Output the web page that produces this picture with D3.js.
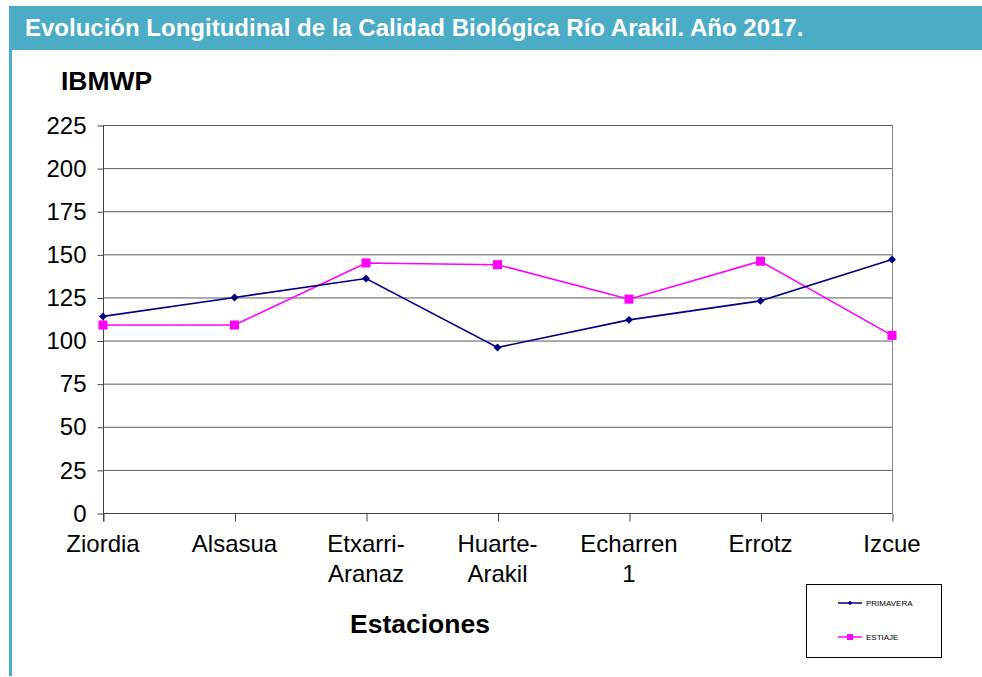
<!DOCTYPE html>
<html>
<head>
<meta charset="utf-8">
<script src="https://cdn.jsdelivr.net/npm/d3@7"></script>
<style>
  body { margin: 0; background: #fff; }
  svg { display: block; font-family: Arial, "Liberation Sans", sans-serif; }
</style>
</head>
<body>
<svg id="chart" width="982" height="677"></svg>
<script>
// data
var estaciones = [["Ziordia"], ["Alsasua"], ["Etxarri-", "Aranaz"], ["Huarte-", "Arakil"], ["Echarren", "1"], ["Errotz"], ["Izcue"]];
var primavera = [114, 125, 136, 96, 112, 123, 147];
var estiaje = [109, 109, 145, 144, 124, 146, 103];
var yTicks = [0, 25, 50, 75, 100, 125, 150, 175, 200, 225];

var svg = d3.select("#chart");

// header bar + left frame line
svg.append("rect").attr("x", 9).attr("y", 6).attr("width", 973).attr("height", 44).attr("fill", "#4BACC6");
svg.append("rect").attr("x", 9).attr("y", 50).attr("width", 3).attr("height", 626).attr("fill", "#4BACC6");
svg.append("text").attr("x", 25).attr("y", 36)
  .attr("fill", "#fff").attr("font-size", "24px").attr("font-weight", "bold")
  .text("Evolución Longitudinal de la Calidad Biológica Río Arakil. Año 2017.");

var x = d3.scalePoint()
  .domain(d3.range(estaciones.length))
  .range([103, 892]);
var y = d3.scaleLinear()
  .domain([0, 225])
  .range([513, 125]);

// gridlines
svg.append("g").selectAll("line")
  .data(yTicks.filter(function(d){ return d > 0; }))
  .enter().append("line")
  .attr("x1", 103).attr("x2", 892)
  .attr("y1", function(d){ return y(d) + 0.5; })
  .attr("y2", function(d){ return y(d) + 0.5; })
  .attr("stroke", "#5a5a5a").attr("stroke-width", 1);

// right border of plot area
svg.append("line").attr("x1", 892.5).attr("x2", 892.5).attr("y1", y(225)).attr("y2", y(0))
  .attr("stroke", "#8a8a8a");

// y axis
var yAxis = svg.append("g").attr("transform", "translate(103.5,0.5)")
  .call(d3.axisLeft(y).tickValues(yTicks).tickSize(6).tickPadding(11));
yAxis.select(".domain").attr("stroke", "#444").attr("d", "M0," + y(225) + "V" + (y(0) + 8));
yAxis.selectAll(".tick line").attr("stroke", "#444");
yAxis.selectAll("text").attr("font-size", "24px").attr("fill", "#000")
  .attr("font-family", "Arial, 'Liberation Sans', sans-serif");

// x axis
var xAxis = svg.append("g").attr("transform", "translate(0.5,513.5)")
  .call(d3.axisBottom(x).tickSize(8).tickFormat(""));
xAxis.select(".domain").attr("stroke", "#444").attr("d", "M103,0H892");
xAxis.selectAll(".tick line").attr("stroke", "#444");

svg.append("g").selectAll("text")
  .data(estaciones)
  .enter().append("text")
  .attr("text-anchor", "middle")
  .attr("font-size", "24px")
  .attr("transform", function(d, i){ return "translate(" + x(i) + ",552)"; })
  .each(function(d){
    var t = d3.select(this);
    d.forEach(function(line, k){
      t.append("tspan").attr("x", 0).attr("dy", k === 0 ? 0 : 30).text(line);
    });
  });

// axis titles
svg.append("text").attr("x", 61).attr("y", 90)
  .attr("font-size", "26.5px").attr("font-weight", "bold").text("IBMWP");
svg.append("text").attr("x", 420).attr("y", 633).attr("text-anchor", "middle")
  .attr("font-size", "26.5px").attr("font-weight", "bold").text("Estaciones");

var line = d3.line()
  .x(function(d, i){ return x(i); })
  .y(function(d){ return y(d); });

// ESTIAJE
svg.append("path").datum(estiaje).attr("d", line)
  .attr("fill", "none").attr("stroke", "#FF00FF").attr("stroke-width", 1.6);
svg.append("g").selectAll("rect").data(estiaje).enter().append("rect")
  .attr("x", function(d, i){ return x(i) - 4.5; })
  .attr("y", function(d){ return y(d) - 4.5; })
  .attr("width", 9).attr("height", 9).attr("fill", "#FF00FF");

// PRIMAVERA
svg.append("path").datum(primavera).attr("d", line)
  .attr("fill", "none").attr("stroke", "#000080").attr("stroke-width", 1.6);
svg.append("g").selectAll("path").data(primavera).enter().append("path")
  .attr("d", d3.symbol().type(d3.symbolDiamond2).size(40))
  .attr("transform", function(d, i){ return "translate(" + x(i) + "," + y(d) + ")"; })
  .attr("fill", "#000080");

// legend
var legend = svg.append("g");
legend.append("rect").attr("x", 806.5).attr("y", 584.5).attr("width", 135).attr("height", 73)
  .attr("fill", "#fff").attr("stroke", "#000").attr("stroke-width", 1);
var legItems = [
  { name: "PRIMAVERA", color: "#000080", ly: 603 },
  { name: "ESTIAJE", color: "#FF00FF", ly: 637 }
];
legItems.forEach(function(it, i){
  legend.append("line").attr("x1", 838).attr("x2", 862).attr("y1", it.ly).attr("y2", it.ly)
    .attr("stroke", it.color).attr("stroke-width", 1.5);
  if (i === 0) {
    legend.append("path").attr("d", d3.symbol().type(d3.symbolDiamond2).size(14))
      .attr("transform", "translate(850," + it.ly + ")").attr("fill", it.color);
  } else {
    legend.append("rect").attr("x", 847).attr("y", it.ly - 3).attr("width", 6).attr("height", 6)
      .attr("fill", it.color);
  }
  legend.append("text").attr("x", 866).attr("y", it.ly + 3).attr("font-size", "8px").text(it.name);
});
</script>
</body>
</html>
